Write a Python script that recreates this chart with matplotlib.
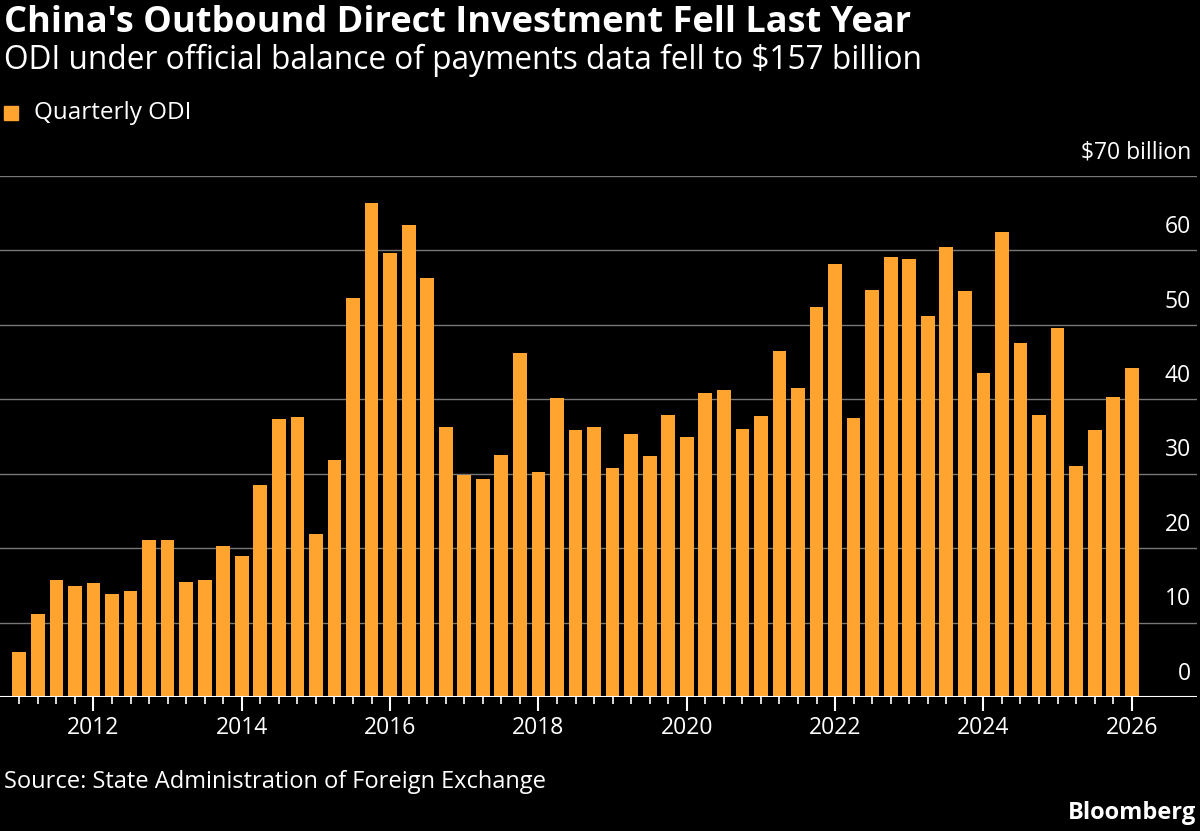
import matplotlib
matplotlib.use('Agg')
import matplotlib.pyplot as plt
import numpy as np

plt.rcParams['font.family'] = ['Open Sans', 'DejaVu Sans']

# quarterly ODI, $ billion, first bar at 2011.0, step one quarter
odi = [6.0, 11.2, 15.7, 14.9, 15.3, 13.8, 14.2, 21.1, 21.1, 15.5, 15.7, 20.3,
       19.0, 28.5, 37.4, 37.6, 21.9, 31.9, 53.6, 66.4, 59.7, 63.4, 56.3, 36.3,
       29.8, 29.3, 32.5, 46.2, 30.2, 40.2, 35.9, 36.3, 30.8, 35.3, 32.4, 37.9,
       34.9, 40.9, 41.3, 36.0, 37.8, 46.5, 41.5, 52.4, 58.2, 37.5, 54.7, 59.1,
       58.9, 51.2, 60.5, 54.6, 43.5, 62.5, 47.6, 37.9, 49.6, 31.0, 35.9, 40.3,
       44.2]
start_year = 2011.0
years = [2012, 2014, 2016, 2018, 2020, 2022, 2024, 2026]
yticks = [0, 10, 20, 30, 40, 50, 60, 70]

x = start_year + 0.25 * np.arange(len(odi))

fig = plt.figure(figsize=(12, 8.31), dpi=100, facecolor='black')
ax = fig.add_axes([0.0, 0.1613, 0.9975, 0.627], facecolor='black')
ax.bar(x, odi, width=0.185, color='#FFA52F', zorder=2)
ax.set_xlim(2010.74, 2026.88)
ax.set_ylim(0, 70)
for s in ax.spines.values():
    s.set_visible(False)
for v in yticks[1:]:
    ax.axhline(v, color='#777777', lw=1, zorder=1)
ax.axhline(0, color='white', lw=1.5, zorder=3)
ax.set_yticks([])
ax.set_xticks(x, minor=True)
ax.set_xticks(years)
ax.set_xticklabels([str(y) for y in years], color='white', fontsize=16.5)
ax.tick_params(axis='x', which='major', length=10, width=1.5, color='white', pad=4)
ax.tick_params(axis='x', which='minor', length=5, width=1.2, color='white')
for v in yticks:
    lab = '$70 billion' if v == 70 else str(v)
    ax.text(0.995, v + 1.5, lab, transform=ax.get_yaxis_transform(),
            ha='right', va='bottom', color='white', fontsize=16.5)

fig.text(0.003, 0.972, "China's Outbound Direct Investment Fell Last Year",
         color='white', fontsize=26, fontweight='bold', va='center')
fig.text(0.003, 0.927, "ODI under official balance of payments data fell to $157 billion",
         color='white', fontsize=22.8, va='center')
fig.patches.append(plt.Rectangle((0.003, 0.855), 0.012, 0.017, color='#FFA52F',
                                 transform=fig.transFigure, figure=fig))
fig.text(0.028, 0.864, 'Quarterly ODI', color='white', fontsize=17.5, va='center')
fig.text(0.003, 0.059, 'Source: State Administration of Foreign Exchange',
         color='white', fontsize=17, va='center')
fig.text(0.997, 0.022, 'Bloomberg', color='white', fontsize=17,
         fontweight='bold', ha='right', va='center')

fig.savefig('out.png', dpi=100, facecolor='black')
